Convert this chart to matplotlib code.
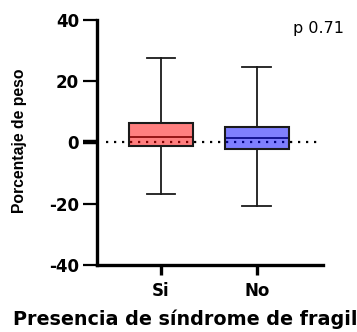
import matplotlib
matplotlib.use("Agg")
import matplotlib.pyplot as plt

# data
groups = ["Si", "No"]
q1 = [-1.2, -2.3]
med = [1.7, 1.4]
q3 = [6.4, 4.9]
whislo = [-16.9, -20.6]
whishi = [27.6, 24.4]
face_colors = [(1, 0, 0, 0.5), (0, 0, 1, 0.5)]
p_text = "p 0.71"

plt.rcParams["font.family"] = ["DejaVu Sans"]
plt.rcParams["axes.unicode_minus"] = False

fig = plt.figure(figsize=(3.57, 3.32), dpi=100)
ax = fig.add_axes([0.2717, 0.2018, 0.633, 0.739])

stats = []
for g, a, m, b, lo, hi in zip(groups, q1, med, q3, whislo, whishi):
    stats.append({"label": g, "q1": a, "med": m, "q3": b, "whislo": lo, "whishi": hi, "fliers": []})

pos = list(range(len(groups)))
bp = ax.bxp(stats, positions=pos, widths=0.67, capwidths=0.3, patch_artist=True,
            showfliers=False,
            boxprops=dict(linewidth=1.5, edgecolor="#1a1a1a"),
            medianprops=dict(color="#1a1a1a", linewidth=1.3),
            whiskerprops=dict(color="#1a1a1a", linewidth=1.3),
            capprops=dict(color="#1a1a1a", linewidth=1.3))
for patch, c in zip(bp["boxes"], face_colors):
    patch.set_facecolor(c)
    patch.set_zorder(3)

ax.axhline(0, xmin=0.04, xmax=0.99, color="black", linewidth=1.6,
           linestyle=(0, (1, 2.6)), zorder=2)

ax.set_xlim(-0.667, 1.69)
ax.set_ylim(-40, 40)
ax.set_yticks([-40, -20, 0, 20, 40])
ax.set_xticks(pos)
ax.set_xticklabels(groups)

for s in ["top", "right"]:
    ax.spines[s].set_visible(False)
for s in ["left", "bottom"]:
    ax.spines[s].set_linewidth(2.4)

ax.tick_params(axis="y", width=1.6, length=10, labelsize=12, pad=3)
ax.tick_params(axis="x", width=2.4, length=7, labelsize=12, pad=5)
ax.yaxis.get_major_ticks()[2].tick1line.set_markeredgewidth(3.2)
for lab in ax.get_xticklabels() + ax.get_yticklabels():
    lab.set_fontweight("bold")

ax.set_ylabel("Porcentaje de peso", fontsize=11.3, fontweight="bold",
              family="Liberation Sans", va="center")
ax.yaxis.set_label_coords(-0.341, 0.507)
fig.text(0.036, 7 / 332, "Presencia de síndrome de fragilidad", fontsize=13.8,
         fontweight="bold", ha="left", va="baseline")
fig.text(293 / 357, 1 - 28 / 332, p_text, fontsize=11.5, ha="left", va="center")

fig.savefig("out.png", dpi=100)
